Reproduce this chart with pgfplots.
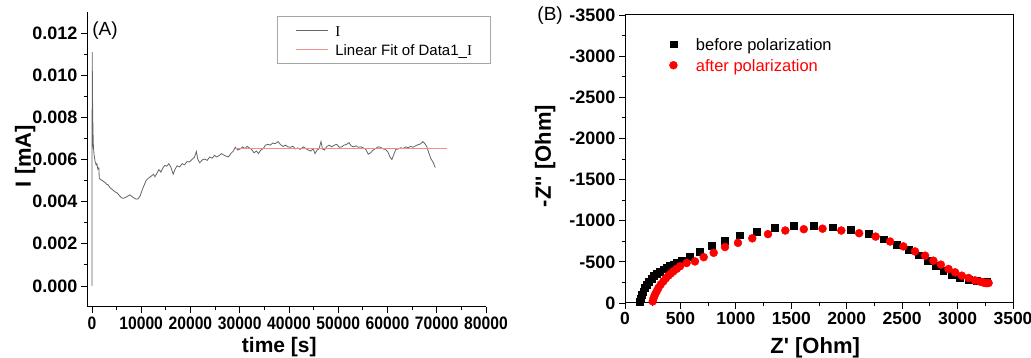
\documentclass[border=0pt]{standalone}
\usepackage{fontspec}
\setmainfont{Liberation Sans}
\newfontfamily\narrowsans{Liberation Sans}[FakeStretch=0.87]
\newfontfamily\rawsans{Liberation Sans}[Ligatures=TeXOff]
\newfontfamily\serifI{Liberation Serif}
\usepackage{pgfplots}
\pgfplotsset{compat=1.18}
\definecolor{curvegray}{RGB}{100,100,100}
\definecolor{fitpink}{RGB}{245,140,140}
\pgfplotsset{
  /pgf/number format/assume math mode=true,
  every tick/.style={black, line width=0.8pt},
  major tick length=6pt, minor tick length=3.5pt,
}
\begin{document}
\begin{tikzpicture}[x=1pt,y=1pt]
\useasboundingbox (0,0) rectangle (1031,358);
% ---------------- Panel A
\begin{axis}[
  at={(87pt,51pt)}, anchor=south west,
  width=399pt, height=295pt, scale only axis,
  xmin=-1000, xmax=80000, ymin=-0.001, ymax=0.013,
  axis lines*=left,
  axis line style={line width=1pt, black},
  tick align=outside,
  xtick={0,10000,20000,30000,40000,50000,60000,70000,80000}, minor x tick num=1,
  ytick={0,0.002,0.004,0.006,0.008,0.010,0.012}, minor y tick num=1,
  scaled x ticks=false, scaled y ticks=false,
  xticklabel style={font=\narrowsans\bfseries\fontsize{18}{18}\selectfont, /pgf/number format/1000 sep={}},
  yticklabel style={font=\bfseries\fontsize{18}{18}\selectfont, /pgf/number format/.cd, fixed, fixed zerofill, precision=3},
  xlabel={time [s]},
  xlabel style={font=\bfseries\fontsize{21}{21}\selectfont, at={(axis description cs:0.482,-0.1695)}, anchor=south, inner sep=0pt},
  ylabel={I [mA]},
  ylabel style={font=\bfseries\fontsize{22}{22}\selectfont, at={(axis description cs:-0.155,0.512)}, anchor=center, inner sep=0pt},
  legend style={at={(axis description cs:0.476,0.986)}, anchor=north west, draw=gray!70, line width=0.9pt,
    inner xsep=18pt, inner ysep=8.5pt, row sep=8pt, column sep=7pt,
    font=\fontsize{15}{15}\selectfont, nodes={inner sep=0pt, text height=11pt, text depth=0pt}},
  legend cell align=left,
  legend image code/.code={\draw[#1] (0pt,0pt) -- (32pt,0pt);},
  clip=false,
]
\addplot[curvegray, line width=0.8pt] table[row sep=\\] {
x y\\
0 0\\
60 0.0111\\
120 0.0090\\
200 0.0075\\
300 0.0066\\
450 0.0062\\
650 0.0059\\
850 0.00575\\
1000 0.0058\\
1200 0.00555\\
1400 0.0056\\
1500 0.0051\\
1800 0.00505\\
2100 0.0050\\
2400 0.00495\\
2700 0.0049\\
3000 0.00482\\
3300 0.0048\\
3600 0.00468\\
4000 0.0046\\
4400 0.00452\\
4800 0.00445\\
5200 0.00440\\
5600 0.00428\\
6000 0.00418\\
6400 0.00416\\
6800 0.00420\\
7200 0.00425\\
7700 0.00432\\
8100 0.00425\\
8500 0.00418\\
9000 0.00412\\
9400 0.00414\\
9800 0.00428\\
10200 0.00455\\
10600 0.00478\\
11000 0.00500\\
11500 0.00512\\
12000 0.00520\\
12500 0.00530\\
12800 0.00518\\
13200 0.00535\\
13600 0.00552\\
14000 0.00540\\
14400 0.00560\\
14800 0.00572\\
15200 0.00568\\
15600 0.00580\\
16000 0.00565\\
16500 0.00530\\
16900 0.00555\\
17300 0.00570\\
17800 0.00565\\
18300 0.00580\\
18800 0.00575\\
19300 0.00590\\
19800 0.00588\\
20300 0.00600\\
20800 0.00610\\
21200 0.00638\\
21500 0.00600\\
21900 0.00585\\
22400 0.00598\\
22900 0.00602\\
23400 0.00596\\
23900 0.00612\\
24400 0.00606\\
24900 0.00620\\
25300 0.00612\\
25800 0.00618\\
26300 0.00628\\
26700 0.00622\\
27200 0.00616\\
27700 0.00612\\
28200 0.00628\\
28700 0.00640\\
29100 0.00658\\
29600 0.00645\\
30100 0.00650\\
30600 0.00660\\
31100 0.00652\\
31500 0.00662\\
32000 0.00655\\
32500 0.00645\\
32900 0.00632\\
33400 0.00640\\
33800 0.00628\\
34300 0.00645\\
34800 0.00652\\
35200 0.00668\\
35700 0.00672\\
36200 0.00668\\
36700 0.00678\\
37200 0.00675\\
37800 0.00685\\
38300 0.00670\\
38800 0.00662\\
39300 0.00668\\
39800 0.00660\\
40300 0.00658\\
40800 0.00663\\
41300 0.00650\\
41800 0.00655\\
42300 0.00648\\
42900 0.00660\\
43400 0.00652\\
43900 0.00645\\
44400 0.00640\\
44900 0.00650\\
45300 0.00628\\
45700 0.00645\\
46100 0.00650\\
46500 0.00685\\
46800 0.00650\\
47200 0.00645\\
47700 0.00662\\
48200 0.00668\\
48700 0.00660\\
49200 0.00668\\
49700 0.00672\\
50200 0.00658\\
50700 0.00660\\
51200 0.00668\\
51700 0.00672\\
52200 0.00680\\
52600 0.00665\\
53100 0.00660\\
53600 0.00665\\
54100 0.00658\\
54600 0.00660\\
55100 0.00655\\
55600 0.00648\\
56100 0.00625\\
56600 0.00632\\
57100 0.00645\\
57600 0.00652\\
58100 0.00660\\
58600 0.00658\\
59100 0.00650\\
59600 0.00648\\
60100 0.00635\\
60500 0.00612\\
60900 0.00600\\
61300 0.00625\\
61700 0.00648\\
62200 0.00650\\
62700 0.00656\\
63200 0.00652\\
63700 0.00660\\
64200 0.00656\\
64700 0.00662\\
65200 0.00658\\
65700 0.00665\\
66200 0.00670\\
66700 0.00674\\
67200 0.00685\\
67600 0.00675\\
68000 0.00660\\
68400 0.00630\\
68800 0.00605\\
69300 0.00585\\
69700 0.00562\\
};
\addlegendentry{{\serifI I}}
\addplot[fitpink, line width=0.9pt] coordinates {(29000,0.00652) (72000,0.00652)};
\addlegendentry{Linear Fit of Data1\_{\serifI I}}
\node[font=\fontsize{19}{19}\selectfont, inner sep=0pt] at (axis description cs:0.045,0.936) {(A)};
\end{axis}
% ---------------- Panel B
\begin{axis}[
  at={(625pt,55pt)}, anchor=south west,
  width=388pt, height=288pt, scale only axis,
  xmin=0, xmax=3500, ymin=0, ymax=3500,
  axis line style={line width=1pt, black},
  tick align=outside, tick pos=left,
  xtick={0,500,1000,1500,2000,2500,3000,3500}, minor x tick num=1,
  ytick={0,500,1000,1500,2000,2500,3000,3500}, minor y tick num=1,
  yticklabels={0,-500,-1000,-1500,-2000,-2500,-3000,-3500},
  scaled x ticks=false, scaled y ticks=false,
  xticklabel style={font=\bfseries\fontsize{17.5}{17.5}\selectfont, /pgf/number format/1000 sep={}},
  yticklabel style={font=\bfseries\fontsize{18}{18}\selectfont},
  xlabel={\rawsans\bfseries Z' [Ohm]},
  xlabel style={font=\fontsize{22}{22}\selectfont, at={(axis description cs:0.49,-0.177)}, anchor=base, inner sep=0pt},
  ylabel={\rawsans\bfseries -Z'' [Ohm]},
  ylabel style={font=\fontsize{22}{22}\selectfont, at={(axis description cs:-0.206,0.51)}, anchor=center, inner sep=0pt},
  legend style={at={(axis description cs:0.114,0.920)}, anchor=north west, draw=none, fill=none,
    inner sep=0pt, row sep=9pt, column sep=18.5pt,
    font=\fontsize{16.5}{16.5}\selectfont, nodes={inner sep=0pt, text height=12pt, text depth=0pt}},
  legend cell align=left,
  legend image code/.code={\draw[#1] plot coordinates {(0pt,0pt)};},
  clip=false,
]
\addplot[only marks, mark=square*, mark size=3.4pt, black, mark options={draw=black, fill=black}] table[row sep=\\] {
x y\\
135 20\\
140 50\\
150 100\\
165 140\\
180 190\\
196 220\\
215 260\\
241 300\\
262 330\\
286 355\\
315 385\\
346 410\\
376 432\\
406 452\\
436 470\\
466 485\\
511 520\\
586 563\\
677 625\\
782 695\\
902 755\\
1032 825\\
1188 870\\
1347 918\\
1520 942\\
1699 942\\
1874 922\\
2039 890\\
2195 840\\
2330 776\\
2451 708\\
2556 646\\
2646 580\\
2730 515\\
2800 455\\
2871 395\\
2946 348\\
3021 308\\
3097 285\\
3172 272\\
3232 265\\
3262 260\\
};
\addlegendentry{before polarization}
\addplot[only marks, mark=*, mark size=4pt, red, mark options={draw=red, fill=red}] table[row sep=\\] {
x y\\
250 20\\
258 60\\
270 100\\
285 140\\
301 182\\
322 225\\
346 263\\
368 300\\
391 332\\
414 360\\
436 385\\
466 415\\
496 446\\
556 486\\
631 505\\
710 557\\
800 610\\
902 680\\
1019 731\\
1148 786\\
1290 837\\
1446 881\\
1613 897\\
1782 903\\
1951 881\\
2112 848\\
2261 807\\
2391 747\\
2511 688\\
2616 627\\
2707 575\\
2782 514\\
2849 466\\
2918 413\\
2978 373\\
3038 332\\
3099 304\\
3157 275\\
3205 259\\
3230 250\\
3250 243\\
3265 242\\
3280 243\\
};
\addlegendentry{\textcolor{red}{after polarization}}
\node[font=\fontsize{19}{19}\selectfont, inner sep=0pt] at (axis description cs:-0.193,0.997) {(B)};
\end{axis}
\end{tikzpicture}
\end{document}
